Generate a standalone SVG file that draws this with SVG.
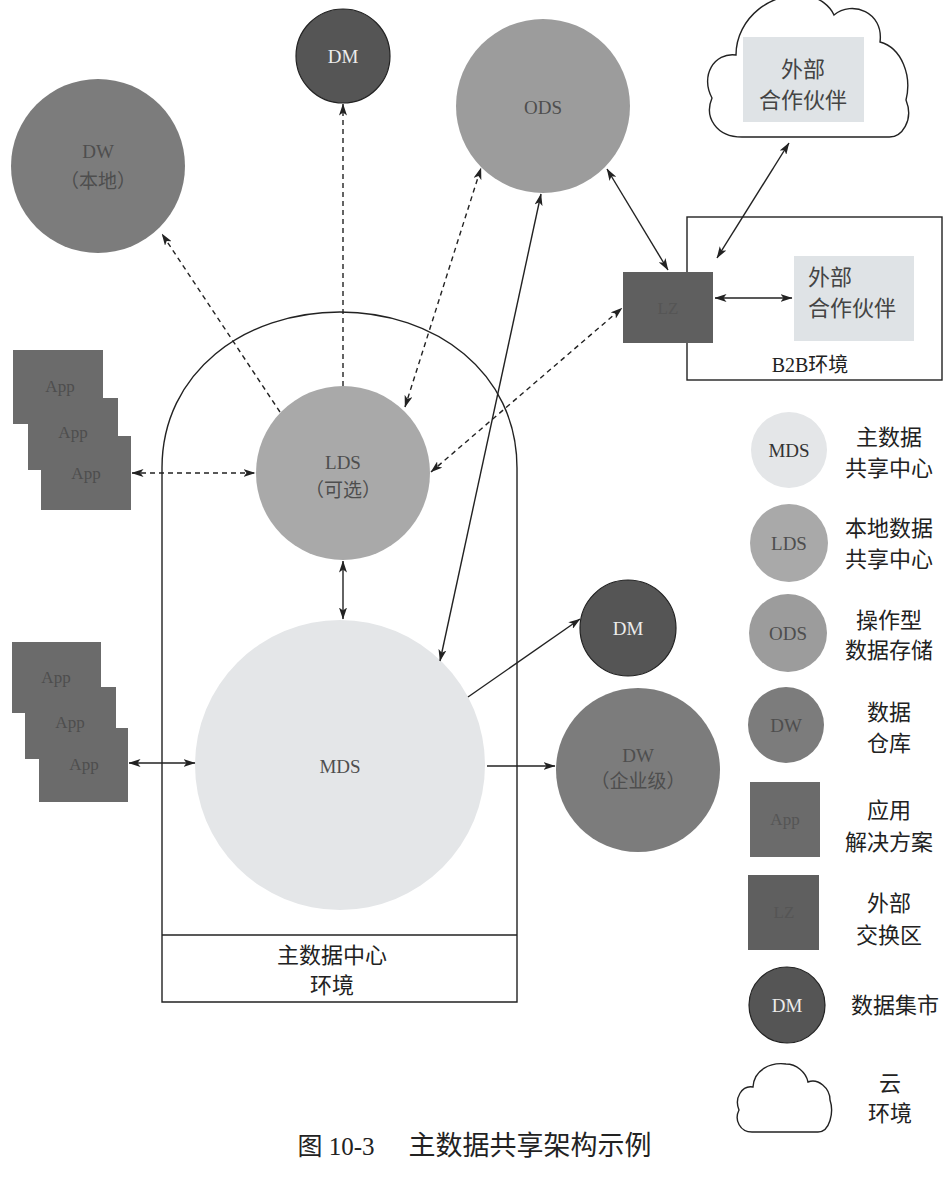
<svg xmlns="http://www.w3.org/2000/svg" width="950" height="1178" viewBox="0 0 950 1178">
<style>
.lat{font-family:"Liberation Serif","DejaVu Serif",serif;text-anchor:middle;}
.cjk{font-family:"Liberation Serif","Noto Sans CJK SC",sans-serif;text-anchor:middle;}
.node-t{font-size:19px;fill:#4e4e4e;}
.dm-t{font-size:19px;fill:#ececec;}
.app-t{font-size:17px;fill:#4e4e4e;font-family:"Liberation Serif",serif;text-anchor:middle;}
.leg{font-size:22px;fill:#222;}
.line{stroke:#222;stroke-width:1.4;fill:none;}
.dash{stroke-dasharray:5 4;}
.box{fill:none;stroke:#222;stroke-width:1.4;}
.app{fill:#6b6b6b;}
.cloud{fill:#fff;stroke:#222;stroke-width:1.4;}
</style>
<defs>
<marker id="ah" viewBox="0 0 12 8" refX="11.5" refY="4" markerWidth="12" markerHeight="8" markerUnits="userSpaceOnUse" orient="auto-start-reverse">
<path d="M0,0 L12,4 L0,8 L3,4 Z" fill="#222"/>
</marker>
</defs>
<rect width="950" height="1178" fill="#ffffff"/>

<!-- Master data centre environment -->
<g id="env-mdc">
<path class="box" d="M162,1002 L162,468 C162,372 245,312 340,312 C435,312 517,372 517,468 L517,1002 Z"/>
<line class="box" x1="162" y1="935" x2="517" y2="935"/>
<text class="cjk" x="332" y="963" font-size="22" fill="#222">主数据中心</text>
<text class="cjk" x="332" y="993" font-size="22" fill="#222">环境</text>
</g>

<!-- B2B environment -->
<g id="env-b2b">
<rect class="box" x="687" y="217" width="255" height="163"/>
<text class="cjk" x="810" y="372" font-size="20" fill="#222">B2B环境</text>
</g>

<g id="partner-b2b">
<rect x="794" y="256" width="120" height="85" fill="#dfe3e6"/>
<text class="cjk" x="830" y="285" font-size="22" fill="#444">外部</text>
<text class="cjk" x="852" y="316" font-size="22" fill="#444">合作伙伴</text>
</g>

<g id="cloud-partner">
<path class="cloud" d="M742,137 C716,137 704,117 712,98 C700,76 714,52 736,55 C736,18 772,-10 808,-4 C820,-2 830,6 834,15 C852,0 884,12 880,42 C902,48 912,76 906,100 C914,120 902,138 888,137 Z"/>
<rect x="743" y="37" width="121" height="85" fill="#dfe3e6"/>
<text class="cjk" x="803" y="77" font-size="22" fill="#444">外部</text>
<text class="cjk" x="803" y="108" font-size="22" fill="#444">合作伙伴</text>
</g>

<g id="lz">
<rect x="623" y="272" width="90" height="71" fill="#5f5f5f"/>
<text class="lat" x="668" y="314" font-size="17" fill="#555">LZ</text>
</g>

<g id="dw-local">
<circle cx="98" cy="166" r="87" fill="#7c7c7c"/>
<text class="lat node-t" x="98" y="158">DW</text>
<text class="cjk node-t" x="98" y="188">（本地）</text>
</g>

<g id="dm-top">
<circle cx="343" cy="56" r="47" fill="#555" stroke="#222" stroke-width="1.2"/>
<text class="lat dm-t" x="343" y="63">DM</text>
</g>

<g id="ods">
<circle cx="543" cy="106" r="87" fill="#9c9c9c"/>
<text class="lat node-t" x="543" y="114">ODS</text>
</g>

<g id="lds">
<circle cx="343" cy="473" r="87" fill="#a9a9a9"/>
<text class="lat node-t" x="343" y="469">LDS</text>
<text class="cjk node-t" x="343" y="497">（可选）</text>
</g>

<g id="mds">
<circle cx="340" cy="765" r="145" fill="#e4e6e8"/>
<text class="lat node-t" x="340" y="773">MDS</text>
</g>

<g id="dm-low">
<circle cx="628" cy="628" r="48" fill="#555" stroke="#222" stroke-width="1.2"/>
<text class="lat dm-t" x="628" y="635">DM</text>
</g>

<g id="dw-ent">
<circle cx="638" cy="770" r="82" fill="#7c7c7c"/>
<text class="lat node-t" x="638" y="762">DW</text>
<text class="cjk node-t" x="638" y="788">（企业级）</text>
</g>

<g id="apps-top">
<rect class="app" x="13" y="350" width="90" height="74"/>
<rect class="app" x="28" y="398" width="90" height="72"/>
<rect class="app" x="41" y="436" width="90" height="74"/>
<text class="app-t" x="60" y="392">App</text>
<text class="app-t" x="73" y="438">App</text>
<text class="app-t" x="86" y="479">App</text>
</g>

<g id="apps-bottom">
<rect class="app" x="12" y="642" width="89" height="71"/>
<rect class="app" x="25" y="687" width="91" height="72"/>
<rect class="app" x="39" y="728" width="89" height="74"/>
<text class="app-t" x="56" y="683">App</text>
<text class="app-t" x="70" y="728">App</text>
<text class="app-t" x="84" y="770">App</text>
</g>

<g id="connectors">
<line class="line dash" x1="280" y1="412" x2="162" y2="234" marker-end="url(#ah)"/>
<line class="line dash" x1="343" y1="386" x2="343" y2="104" marker-end="url(#ah)"/>
<line class="line dash" x1="405" y1="407" x2="481" y2="168" marker-start="url(#ah)" marker-end="url(#ah)"/>
<line class="line" x1="440" y1="661" x2="541" y2="194" marker-start="url(#ah)" marker-end="url(#ah)"/>
<line class="line dash" x1="431" y1="472" x2="622" y2="308" marker-start="url(#ah)" marker-end="url(#ah)"/>
<line class="line" x1="607" y1="169" x2="668" y2="270" marker-start="url(#ah)" marker-end="url(#ah)"/>
<line class="line" x1="715" y1="298" x2="792" y2="298" marker-start="url(#ah)" marker-end="url(#ah)"/>
<line class="line" x1="717" y1="258" x2="789" y2="143" marker-start="url(#ah)" marker-end="url(#ah)"/>
<line class="line dash" x1="132" y1="473" x2="255" y2="473" marker-start="url(#ah)" marker-end="url(#ah)"/>
<line class="line" x1="129" y1="763" x2="195" y2="763" marker-start="url(#ah)" marker-end="url(#ah)"/>
<line class="line" x1="468" y1="697" x2="580" y2="619" marker-end="url(#ah)"/>
<line class="line" x1="343" y1="561" x2="343" y2="619" marker-start="url(#ah)" marker-end="url(#ah)"/>
<line class="line" x1="487" y1="766" x2="555" y2="766" marker-end="url(#ah)"/>
</g>

<!-- Legend -->
<g id="legend-mds">
<circle cx="789" cy="450" r="38" fill="#e4e6e8"/>
<text class="lat" x="789" y="457" font-size="19" fill="#333">MDS</text>
<text class="cjk leg" x="889" y="445">主数据</text>
<text class="cjk leg" x="889" y="476">共享中心</text>
</g>
<g id="legend-lds">
<circle cx="789" cy="543" r="39" fill="#a9a9a9"/>
<text class="lat" x="789" y="550" font-size="19" fill="#4e4e4e">LDS</text>
<text class="cjk leg" x="889" y="536">本地数据</text>
<text class="cjk leg" x="889" y="567">共享中心</text>
</g>
<g id="legend-ods">
<circle cx="788" cy="633" r="39" fill="#9c9c9c"/>
<text class="lat" x="788" y="640" font-size="19" fill="#4e4e4e">ODS</text>
<text class="cjk leg" x="889" y="628">操作型</text>
<text class="cjk leg" x="889" y="658">数据存储</text>
</g>
<g id="legend-dw">
<circle cx="786" cy="725" r="38" fill="#7c7c7c"/>
<text class="lat" x="786" y="732" font-size="19" fill="#4e4e4e">DW</text>
<text class="cjk leg" x="889" y="720">数据</text>
<text class="cjk leg" x="889" y="751">仓库</text>
</g>
<g id="legend-app">
<rect x="750" y="782" width="70" height="75" fill="#6b6b6b"/>
<text class="lat" x="785" y="825" font-size="17" fill="#555">App</text>
<text class="cjk leg" x="889" y="818">应用</text>
<text class="cjk leg" x="889" y="850">解决方案</text>
</g>
<g id="legend-lz">
<rect x="748" y="875" width="71" height="75" fill="#5f5f5f"/>
<text class="lat" x="784" y="918" font-size="17" fill="#555">LZ</text>
<text class="cjk leg" x="889" y="911">外部</text>
<text class="cjk leg" x="889" y="943">交换区</text>
</g>
<g id="legend-dm">
<circle cx="787" cy="1005" r="38" fill="#555" stroke="#222" stroke-width="1.2"/>
<text class="lat" x="787" y="1012" font-size="19" fill="#ececec">DM</text>
<text class="cjk leg" x="895" y="1013">数据集市</text>
</g>
<g id="legend-cloud">
<path class="cloud" d="M752,1132 C740,1132 734,1120 739,1110 C734,1098 742,1085 753,1087 C754,1070 770,1062 786,1064 C796,1064 806,1072 808,1082 C818,1078 830,1088 830,1100 C834,1112 830,1132 818,1132 Z"/>
<text class="cjk leg" x="890" y="1091">云</text>
<text class="cjk leg" x="890" y="1121">环境</text>
</g>

<g id="caption">
<text class="cjk" x="336" y="1155" font-size="25" fill="#222">图 10-3</text>
<text class="cjk" x="530" y="1155" font-size="27" fill="#222">主数据共享架构示例</text>
</g>
</svg>
